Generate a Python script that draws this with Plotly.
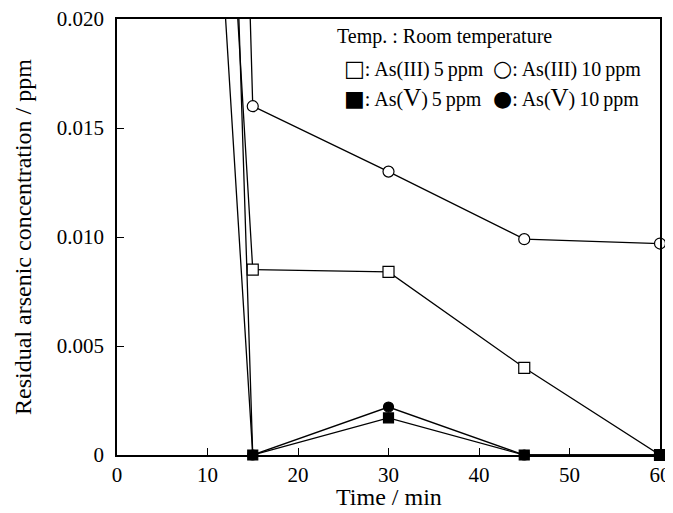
import plotly.graph_objects as go

# ---- data ----
time_min = [0, 15, 30, 45, 60]
as3_5ppm = [0.113, 0.0085, 0.0084, 0.0040, 0.0]
as3_10ppm = [0.234, 0.0160, 0.0130, 0.0099, 0.0097]
as5_5ppm = [0.100, 0.0, 0.0017, 0.0, 0.0]
as5_10ppm = [0.196, 0.0, 0.0022, 0.0, 0.0]

x_ticks = [0, 10, 20, 30, 40, 50, 60]
y_ticks = [0, 0.005, 0.010, 0.015, 0.020]
y_tick_labels = ["0", "0.005", "0.010", "0.015", "0.020"]

x_title = "Time / min"
y_title = "Residual arsenic concentration / ppm"
legend_title = "Temp. : Room temperature"
legend_labels = [
    ("□", ": As(III)\u20095\u2009ppm"),
    ("○", ": As(III)\u200910\u2009ppm"),
    ("■", ": As(<span style='font-size:25px'>V</span>)\u20095\u2009ppm"),
    ("●", ": As(<span style='font-size:25px'>V</span>)\u200910\u2009ppm"),
]

FONT = "Liberation Serif"
series = [
    (as3_5ppm, "square", "white", 11),
    (as3_10ppm, "circle", "white", 11),
    (as5_10ppm, "circle", "black", 10),
    (as5_5ppm, "square", "black", 10),
]

fig = go.Figure()
for ys, sym, fill, sz in series:
    fig.add_trace(go.Scatter(x=time_min, y=ys, mode="lines",
                             line=dict(color="black", width=1.3),
                             showlegend=False, hoverinfo="skip"))
for ys, sym, fill, sz in series:
    fig.add_trace(go.Scatter(x=time_min[1:], y=ys[1:], mode="markers",
                             marker=dict(symbol=sym, size=sz, color=fill,
                                         line=dict(color="black", width=1.2)),
                             cliponaxis=False, showlegend=False))

# plot area in window pixels: x 117..660, y 19..455
def px_x(p):
    return (p - 117) / 543.0

def px_y(p):
    return (455 - p) / 436.0

ann = [dict(text=legend_title, x=px_x(335), y=px_y(36), xref="paper", yref="paper",
            xanchor="left", yanchor="middle", showarrow=False,
            font=dict(family=FONT, size=20, color="black"))]
pos = [(342, 68), (491, 68), (342, 97), (491, 97)]
for (sym, lab), (px, py) in zip(legend_labels, pos):
    ann.append(dict(text=f"<span style='font-family:DejaVu Sans;font-size:22px'>{sym}</span>{lab}",
                    x=px_x(px), y=px_y(py), xref="paper", yref="paper",
                    xanchor="center" if False else "left", yanchor="middle", showarrow=False,
                    font=dict(family=FONT, size=20, color="black")))
# x-axis title
ann.append(dict(text=x_title, x=0.5, y=px_y(497), xref="paper", yref="paper",
                xanchor="center", yanchor="middle", showarrow=False,
                font=dict(family=FONT, size=24, color="black")))

# the page body has an 8px margin, so the figure is 8px smaller and margins shifted
fig.update_layout(
    width=665, height=505,
    margin=dict(l=109, r=13, t=11, b=58),
    paper_bgcolor="white", plot_bgcolor="white",
    font=dict(family=FONT, color="black"),
    annotations=ann,
    showlegend=False,
)
fig.update_xaxes(range=[0, 60], tickvals=x_ticks, ticks="inside", ticklen=7,
                 tickwidth=1.2, tickcolor="black", showline=True, linecolor="black",
                 linewidth=1.5, mirror=True, showgrid=False, zeroline=False,
                 automargin=False, ticklabeloverflow="allow",
                 tickfont=dict(family=FONT, size=21, color="black"))
fig.update_yaxes(range=[0, 0.020], tickvals=y_ticks, ticktext=y_tick_labels,
                 ticks="inside", ticklen=7, tickwidth=1.2, tickcolor="black",
                 showline=True, linecolor="black", linewidth=1.5, mirror=True,
                 showgrid=False, zeroline=False, ticklabelstandoff=7,
                 automargin=False, ticklabeloverflow="allow",
                 tickfont=dict(family=FONT, size=21, color="black"),
                 title=dict(text=y_title, font=dict(family=FONT, size=24), standoff=18))

fig.write_html("out.html")
